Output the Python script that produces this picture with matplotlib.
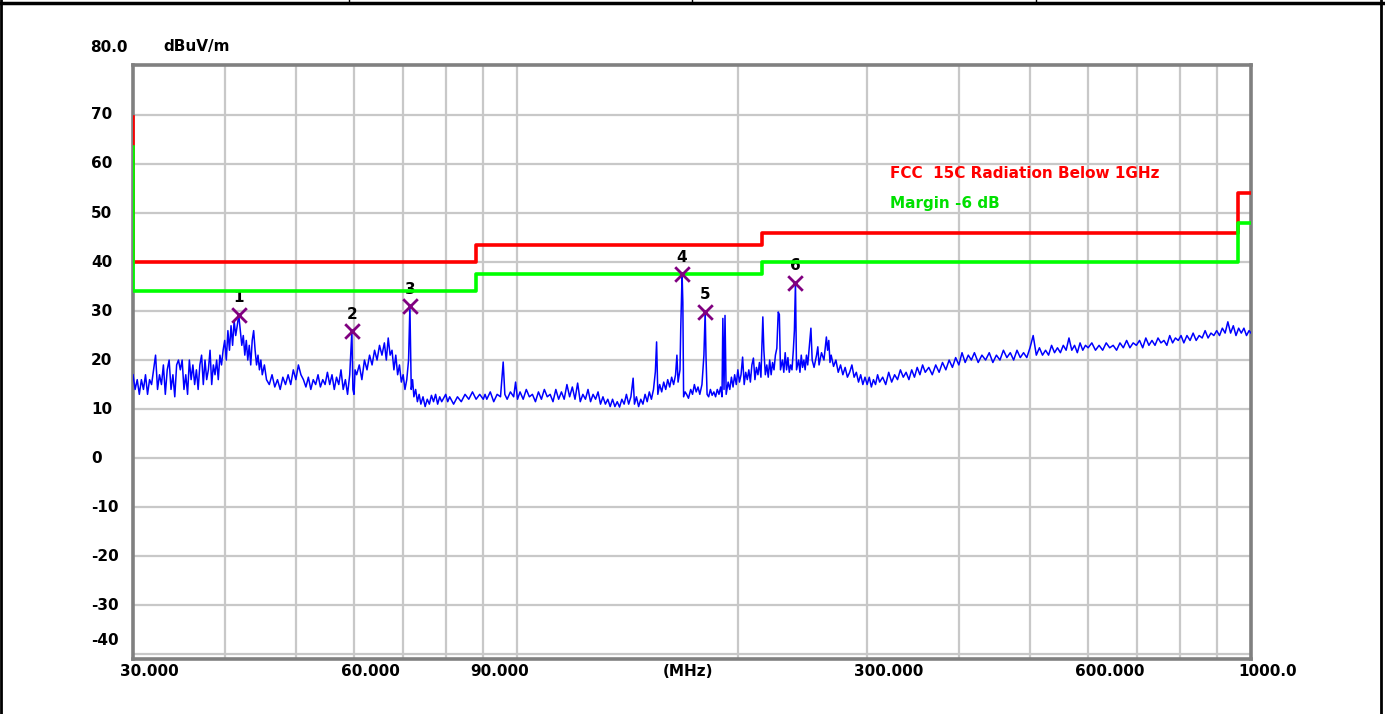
import matplotlib
matplotlib.use("Agg")
import matplotlib.pyplot as plt
from matplotlib.lines import Line2D

plt.rcParams['font.family'] = ['DejaVu Sans']
plt.rcParams['font.weight'] = 'bold'

# measured trace (MHz, dBuV/m)
freq = [
    30.0, 30.2, 30.4, 30.6, 30.8, 31.0, 31.2, 31.4, 31.6, 31.8, 32.0, 32.2, 32.4, 32.6, 32.8, 33.0,
    33.2, 33.4, 33.6, 33.8, 34.0, 34.2, 34.4, 34.6, 34.8, 35.0, 35.2, 35.4, 35.6, 35.8, 36.0, 36.2,
    36.4, 36.6, 36.8, 37.0, 37.2, 37.4, 37.6, 37.8, 38.0, 38.2, 38.4, 38.6, 38.8, 39.0, 39.2, 39.4,
    39.6, 39.8,
    40.0, 40.2, 40.4, 40.6, 40.8, 41.0, 41.2, 41.4, 41.6, 41.8, 42.0, 42.2, 42.4, 42.6, 42.8, 43.0,
    43.2, 43.4, 43.6, 43.8, 44.0, 44.2, 44.4, 44.6, 44.8, 45.0, 45.3, 45.6,
    46.0, 46.4, 46.8, 47.2, 47.6, 48.0, 48.4, 48.8, 49.2, 49.6, 50.0, 50.4, 50.8, 51.2, 51.6, 52.0,
    52.4, 52.8, 53.2, 53.6, 54.0, 54.4, 54.8, 55.2, 55.6, 56.0, 56.4, 56.8, 57.2, 57.6, 58.0, 58.4,
    58.8, 59.2, 59.6, 59.8, 60.0, 60.2,
    60.5, 61.0, 61.5, 62.0, 62.5, 63.0, 63.5, 64.0, 64.5, 65.0, 65.5, 66.0, 66.4, 66.8, 67.2, 67.6,
    68.0, 68.4, 68.8, 69.2, 69.6, 70.0, 70.4, 70.8, 71.2, 71.5, 71.8, 72.1, 72.4, 72.8,
    73.2, 73.6, 74.0, 74.5, 75.0, 75.5, 76.0, 76.5, 77.0, 77.5, 78.0, 78.5, 79.0, 80.0, 80.5, 81.0,
    82.0, 83.0, 84.0, 85.0, 86.0, 87.0, 88.0, 89.0, 90.0,
    90.5, 91, 92, 93, 94, 95, 95.8, 96.3, 97, 98, 99, 99.6, 100.2, 101, 102, 103, 104, 105, 106,
    107, 108, 109, 110, 111, 112, 113, 114, 115, 116, 117, 118, 119, 120, 121, 122, 123, 124, 125,
    126, 127, 128, 129, 130, 131, 132, 133, 134, 135, 136, 137, 138, 139, 140, 141, 142, 143, 144,
    144.6, 145.5, 146.5, 147.5, 148.5, 149.5, 150.5, 151.5, 152.5, 153.5, 154.4, 155.0, 155.6,
    156.5, 157.5, 158.5, 159.5, 160.5, 161.5, 162.5, 163.5, 164.5, 165.2, 165.8, 166.8, 167.2,
    167.9, 168.3, 168.7, 169.5, 170.3, 171.3, 172.5, 173.5, 174.5, 175.5, 176.5, 177.5, 178.7,
    179.8, 180.5, 181.0, 181.6, 182.5, 183.5, 184.5, 185.5, 186.5, 187.5, 188.5, 189.5, 190.3,
    190.8, 191.5, 192.1, 192.8,
    194, 195, 196, 197, 198, 199, 200, 201, 202, 203, 204, 205, 206, 207, 208, 209, 210, 211, 212,
    213, 214, 215, 216.3, 217, 218, 219, 220, 221, 222, 223, 224, 225, 226, 227, 227.8, 228.6,
    230, 231, 232, 233, 234, 235, 236, 237, 238, 238.8, 239.6, 240.4, 242, 243, 244, 245, 246,
    247, 248, 249, 250, 251.5, 252.5, 254, 256, 257, 258, 260, 262, 264, 265, 266, 267, 268, 270,
    272, 274, 276, 278, 280, 282, 284, 286, 288, 290, 292, 294, 296, 298, 300,
    302, 304, 306, 308, 310, 312, 315, 318, 321, 324, 327, 330, 333, 336, 339, 342, 345, 348, 351,
    354, 357, 360, 364, 368, 372, 376, 380, 384, 388, 392, 396, 400, 404, 408, 412, 416, 420, 425,
    430, 435, 440, 445, 450, 455, 460, 465, 470, 475, 480, 485, 490, 495, 500, 505, 510, 515, 520,
    525, 530, 535, 540, 545, 550, 555, 560, 565, 570, 575, 580, 585, 590, 595, 600, 607, 614, 621,
    628, 635, 642, 649, 656, 663, 670, 677, 684, 691, 698, 705, 712, 719, 726, 733, 740, 747, 754,
    761, 768, 775, 782, 789, 796, 803, 810, 818, 826, 834, 842, 850, 858, 866, 874, 882, 890, 898,
    906, 914, 922, 930, 938, 946, 954, 962, 970, 978, 986, 994, 1000,
]
level = [
    17, 14, 16, 13, 16, 14, 17, 13, 16, 15, 18, 21, 14, 17, 15, 19,
    13, 18, 20, 14, 17, 12.5, 19, 20, 18, 20, 14, 17, 13, 20, 16, 19,
    15, 18, 14, 19, 21, 15, 20, 16, 18, 22, 15, 19, 17, 20, 16, 21,
    19, 22,
    24, 20, 26, 22, 27, 23, 28, 25, 27, 29.2, 26, 23, 25, 21, 24, 20,
    23, 19, 24, 26, 22, 19, 21, 18, 20, 17, 19, 16,
    15, 17, 14.5, 16, 14, 16.5, 15, 17, 15, 18, 16, 19, 17, 16, 14.5, 16.5,
    14, 16, 15, 17, 14.5, 16, 15, 17.5, 15, 17, 14, 16.5, 15, 18, 14, 16,
    13, 17, 25.9, 14, 13, 18,
    17, 19, 16, 20, 18, 21, 19, 22, 20, 23, 21, 23.5, 20, 24.5, 21, 22,
    18, 21, 17, 19, 15.5, 17, 14, 16, 20, 31.0, 14, 16, 12.5, 14,
    11.5, 13, 11, 12.5, 10.5, 12, 11, 12.8, 11.5, 13, 11, 12.5, 11.5, 13, 11.5, 12.5,
    11, 12.5, 11.5, 13, 12, 13.5, 12, 13, 12,
    13, 12, 13.5, 11.5, 13, 12.5, 19.6, 13, 12, 13.5, 12.5, 15.5, 12, 13.5, 12, 14, 12.5, 13, 11.5,
    13.5, 12, 14, 12.5, 13, 11.5, 14, 12, 13.5, 12, 15, 12.5, 14.5, 12, 15.3, 11.5, 13, 12, 14,
    11.5, 13, 12, 13.5, 11, 12.5, 11, 12, 10.5, 12, 10.5, 11.5, 10.4, 12, 11, 13, 11, 12.5, 16.3,
    11, 12.5, 10.5, 12, 11, 13, 11.5, 13.5, 12, 14, 17.6, 23.7, 13,
    15, 13.5, 15.5, 14, 16, 14.5, 16.5, 15, 17, 21, 15.5, 18, 26.5,
    37.5, 31.8, 12.5, 13.5, 13, 12.2, 14, 13, 15, 13.5, 14.5, 13, 15,
    21, 29.9, 20.5, 13, 12.5, 14, 12.8, 13.5, 12.5, 14, 13, 14.5, 12.5,
    28.5, 14, 29.1, 13,
    15.5, 14, 16.5, 14.5, 17, 15, 18, 15.5, 17, 20.6, 15, 17.5, 16, 18, 15.5, 19, 20.4, 16, 18.5,
    17, 19.5, 16.5, 28.8, 22, 17, 19, 16.5, 20, 17, 19.5, 18, 21, 22.4, 29.8, 29.3, 18,
    20, 17.5, 21.5, 18, 20.5, 17.5, 19, 18, 22, 26, 35.8, 18, 20, 17.5, 21, 18.5, 20,
    18, 21, 19, 22, 26.5, 20, 18.5, 21, 22.7, 19, 21.5, 20, 24.7, 22, 24, 19.5, 21, 18.7,
    20, 17.5, 19, 17, 18.5, 16.5, 17.5, 19, 16.5, 17.5, 15.5, 17, 15, 16.5, 15,
    16.5, 14.5, 16, 15, 17, 15.5, 16.5, 15, 17.5, 15.5, 17, 16, 18, 16.5, 17.5, 16, 18, 16.5, 18.5,
    17, 19, 17.5, 18.5, 17, 19, 17.5, 19.5, 18, 20, 18.5, 20.5, 19, 21.5, 19.5, 21, 20, 21.5, 19.5,
    21, 20, 21.5, 19.5, 21, 20, 22, 20.5, 21.5, 20, 22, 20.5, 21.5, 20.5, 22.5, 25, 21, 22.5, 21,
    22, 21, 23, 21.5, 22.5, 21.5, 23, 22, 24.5, 22, 23, 21.5, 23.5, 22, 23, 22.5, 23.5, 22, 23,
    22, 23.5, 22.5, 23, 22, 23.5, 22.5, 24, 22.5, 23.5, 23, 24, 22.5, 24.5, 23, 24, 23, 24.5, 23.5,
    24, 23, 25, 23.5, 24.5, 24, 25, 23.5, 25, 24, 25.5, 24, 25, 24.5, 26, 24.5, 25.5, 25, 26,
    25, 26.5, 25.5, 27.8, 25.5, 27, 25, 26.5, 25.5, 26.5, 25, 26, 25.5,
]

# FCC 15C limit (steps) and -6 dB margin line
limit_freq = [30, 30, 88, 88, 216, 216, 960, 960, 1000]
limit_level = [69.5, 40, 40, 43.5, 43.5, 46, 46, 54, 54]
margin_level = [63.5, 34, 34, 37.5, 37.5, 40, 40, 48, 48]

# marked peaks
peak_no = ['1', '2', '3', '4', '5', '6']
peak_freq = [41.8, 59.6, 71.5, 167.9, 180.5, 239.6]
peak_level = [29.2, 25.9, 31.0, 37.5, 29.9, 35.8]

grid_freq = [40, 50, 60, 70, 80, 90, 100, 200, 300, 400, 500, 600, 700, 800, 900]
label_freq = [30, 60, 90, 300, 600, 1000]
label_text = ['30.000', '60.000', '90.000', '300.000', '600.000', '1000.0']
y_ticks = [70, 60, 50, 40, 30, 20, 10, 0, -10, -20, -30, -40]

fig = plt.figure(figsize=(13.85, 7.14), dpi=100)
ax = fig.add_axes([133 / 1385, 1 - 659 / 714, 1118 / 1385, 594 / 714])

ax.plot(freq, level, color='#0000ff', lw=1.1, zorder=3)
ax.plot(limit_freq, limit_level, color='#ff0000', lw=2.6, zorder=4)
ax.plot(limit_freq, margin_level, color='#00ff00', lw=2.6, zorder=4)
ax.scatter(peak_freq, peak_level, marker='x', s=110, color='#800080', linewidths=2, zorder=5)
for n, f, v in zip(peak_no, peak_freq, peak_level):
    ax.annotate(n, (f, v), xytext=(0, 17), textcoords='offset pixels',
                ha='center', va='center', fontsize=11, color='black')

ax.set_xscale('log')
ax.set_xlim(30, 1000)
ax.set_ylim(-41, 80.2)
ax.set_xticks(grid_freq)
ax.set_xticks([], minor=True)
ax.set_yticks(y_ticks)
ax.tick_params(length=0, labelbottom=False, labelleft=False)
ax.grid(True, color='#c8c8c8', lw=1.6)
for s in ax.spines.values():
    s.set_color('#808080')
    s.set_linewidth(2.6)

for f, t in zip(label_freq, label_text):
    ax.annotate(t, (f, 0), xycoords=('data', 'axes fraction'), xytext=(-13, -12),
                textcoords='offset pixels', ha='left', va='center', fontsize=11)
ax.annotate('(MHz)', (0.4964, 0), xycoords='axes fraction', xytext=(0, -12),
            textcoords='offset pixels', ha='center', va='center', fontsize=11)

for v in y_ticks:
    dy = 14 if v == -40 else 0
    ax.annotate(str(v), (0, v), xycoords=('axes fraction', 'data'), xytext=(-42, dy),
                textcoords='offset pixels', ha='left', va='center', fontsize=11)
ax.annotate('80.0', (0, 1), xycoords='axes fraction', xytext=(-43, 18),
            textcoords='offset pixels', ha='left', va='center', fontsize=11)
ax.annotate('dBuV/m', (0, 1), xycoords='axes fraction', xytext=(30, 18),
            textcoords='offset pixels', ha='left', va='center', fontsize=11)

ax.text(0.677, 0.8165, 'FCC  15C Radiation Below 1GHz', transform=ax.transAxes,
        color='#ff0000', fontsize=11, ha='left', va='center')
ax.text(0.677, 0.7665, 'Margin -6 dB', transform=ax.transAxes,
        color='#00e000', fontsize=11, ha='left', va='center')

# page border from the report table
W, H = 1385, 714
def px_line(x0, y0, x1, y1, lw):
    fig.add_artist(Line2D([x0 / W, x1 / W], [1 - y0 / H, 1 - y1 / H],
                          transform=fig.transFigure, color='black', lw=lw))
px_line(0, 3, W, 3, 2.5)
px_line(1, 0, 1, H, 2)
px_line(1381, 0, 1381, H, 2)
for xd in (349, 692, 1036):
    px_line(xd, 0, xd, 3, 1)

fig.savefig('out.png', dpi=100)
